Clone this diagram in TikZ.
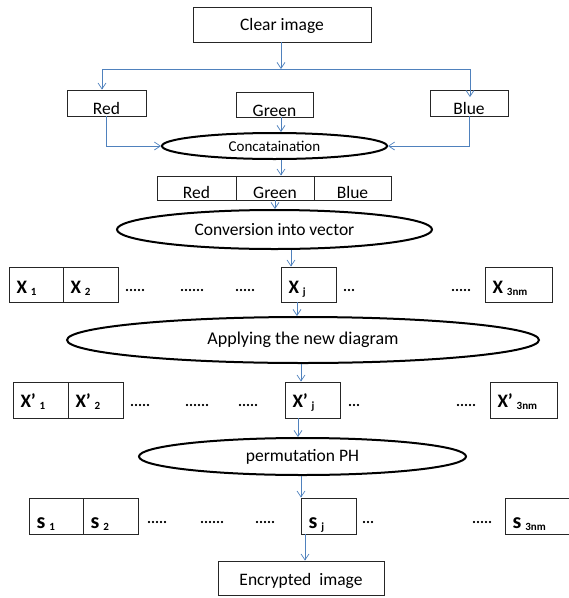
\documentclass[tikz,border=0pt]{standalone}
\usepackage{fontspec}
\setmainfont{Carlito}
\usetikzlibrary{shapes.geometric,arrows.meta}
\definecolor{flowblue}{RGB}{79,129,189}
\newcommand\fs[1]{\fontsize{#1}{#1}\selectfont}
% element label with a lowered index: X 1, X' 3nm, ...
\newcommand\vlab[2]{#1\hspace{4pt}\raisebox{-2pt}{\fs{11}#2}}
\begin{document}
\begin{tikzpicture}[x=1pt,y=-1pt,
  box/.style={draw=black!85, line width=0.8pt, inner sep=0pt, text depth=0pt, font=\fs{17.5}},
  cell/.style={draw=black!85, line width=0.8pt, inner xsep=7.5pt, inner ysep=0pt,
               text depth=0pt, align=left, text width=#1pt, font=\fs{19}\bfseries},
  scell/.style={cell=#1, font=\fs{22}\bfseries},
  oval/.style={draw, ellipse, line width=2pt, inner sep=0pt},
  dots/.style={inner sep=0pt, anchor=base west, font=\fs{15}\bfseries},
  link/.style={draw=flowblue, line width=0.7pt},
  arr/.style={link, -{Straight Barb[length=6pt,width=8pt]}}]
\useasboundingbox (0,0) rectangle (569,598);

% source image and colour planes
\node[box, minimum width=178, minimum height=35, text height=11] (clear) at (282,24.5) {Clear image};
\node[box, minimum width=79, minimum height=26, text height=22] (red) at (106.5,103) {Red};
\node[box, minimum width=77, minimum height=25, text height=24] (green) at (274.5,104.5) {Green};
\node[box, minimum width=78, minimum height=26, text height=22] (blue) at (469,103) {Blue};

\node[oval, minimum width=225, minimum height=26, font=\fs{15}] (concat) at (274.5,146) {Concataination};

% concatenated planes
\node[box, minimum width=79, minimum height=24, text height=20] (rgbR) at (196.5,188) {Red};
\node[box, minimum width=78, minimum height=24, text height=20] (rgbG) at (275,188) {Green};
\node[box, minimum width=77, minimum height=24, text height=20] (rgbB) at (352.5,188) {Blue};

\node[oval, minimum width=315, minimum height=39, font=\fs{17.5}] (conv) at (274.5,229.5) {Conversion into vector};

% vector X
\node[cell=39, minimum height=35, text height=17] (x1) at (36,284.5) {\vlab{X}{1}};
\node[cell=40, minimum height=35, text height=17] (x2) at (90.5,284.5) {\vlab{X}{2}};
\node[cell=40, minimum height=35, text height=17] (xj) at (308.5,284.5) {\vlab{X}{j}};
\node[cell=52, minimum height=35, text height=17] (xn) at (518.5,284.5) {\vlab{X}{3nm}};
\node[dots] (xd1) at (125,291) {.....};
\node[dots] (xd2) at (180,291) {......};
\node[dots] (xd3) at (235,291) {.....};
\node[dots] (xd4) at (343,291) {...};
\node[dots] (xd5) at (451,291) {.....};

\node[oval, minimum width=472, minimum height=46, font=\fs{18}] (apply) at (303,340) {Applying the new diagram};

% vector X'
\node[cell=40, minimum height=36, text height=14] (y1) at (40.5,400) {\vlab{X’}{1}};
\node[cell=40, minimum height=36, text height=14] (y2) at (95.5,400) {\vlab{X’}{2}};
\node[cell=40, minimum height=36, text height=14] (yj) at (312.5,400) {\vlab{X’}{j}};
\node[cell=52, minimum height=36, text height=14] (yn) at (523.5,400) {\vlab{X’}{3nm}};
\node[dots] (yd1) at (130,406) {.....};
\node[dots] (yd2) at (185,406) {......};
\node[dots] (yd3) at (238,406) {.....};
\node[dots] (yd4) at (348,406) {...};
\node[dots] (yd5) at (456,406) {.....};

\node[oval, minimum width=327, minimum height=37, font=\fs{17.5}] (perm) at (302.5,456.5) {permutation PH};

% vector s
\node[scell=39, minimum height=36, text height=24] (s1) at (56,516) {\vlab{s}{1}};
\node[scell=40, minimum height=36, text height=24] (s2) at (110.5,516) {\vlab{s}{2}};
\node[scell=40, minimum height=36, text height=24] (sj) at (328.5,516) {\vlab{s}{j}};
\node[scell=55, minimum height=36, text height=24] (sn) at (540,516) {\vlab{s}{3nm}};
\node[dots] (sd1) at (147,523) {.....};
\node[dots] (sd2) at (200,523) {......};
\node[dots] (sd3) at (255,523) {.....};
\node[dots] (sd4) at (362,523) {...};
\node[dots] (sd5) at (472,523) {.....};

\node[box, minimum width=166, minimum height=34, text height=14] (enc) at (301,578) {Encrypted\ \ image};

% connector positions
\coordinate (split) at (281,69);
\coordinate (lt) at (102,69);
\coordinate (rt) at (470,69);
\coordinate (bluetip) at (470,97);
\coordinate (ga) at (281,0);
\coordinate (gb) at (275,0);
\coordinate (gc) at (291,0);
\coordinate (gd) at (297,0);
\coordinate (ge) at (301,0);
\coordinate (gf) at (298,0);
\coordinate (gg) at (305,0);

% splitting into planes
\draw[arr] (clear.south -| split) -- (split);
\draw[link] (lt) -- (rt);
\draw[arr] (lt) -- (red.north -| lt);
\draw[arr] (rt) -- (bluetip);

% into the concatenation
\draw[arr] (red.south) -- (red.south |- concat.west) -- (concat.west);
\draw[arr] (blue.south) -- (blue.south |- concat.east) -- (concat.east);
\draw[arr] (green.south -| ga) -- (concat.north -| ga);

% main chain
\draw[arr] (concat.south -| ga) -- (rgbG.north -| ga);
\draw[arr] (rgbG.south -| gb) -- (conv.north -| gb);
\draw[arr] (conv.south -| gc) -- (xj.north -| gc);
\draw[arr] (xj.south -| gd) -- (apply.north -| gd);
\draw[arr] (apply.south -| ge) -- (yj.north -| ge);
\draw[arr] (yj.south -| gf) -- (perm.north -| gf);
\draw[arr] (perm.south -| ge) -- (sj.north -| ge);
\draw[arr] (sj.south -| gg) -- (enc.north -| gg);
\end{tikzpicture}
\end{document}
